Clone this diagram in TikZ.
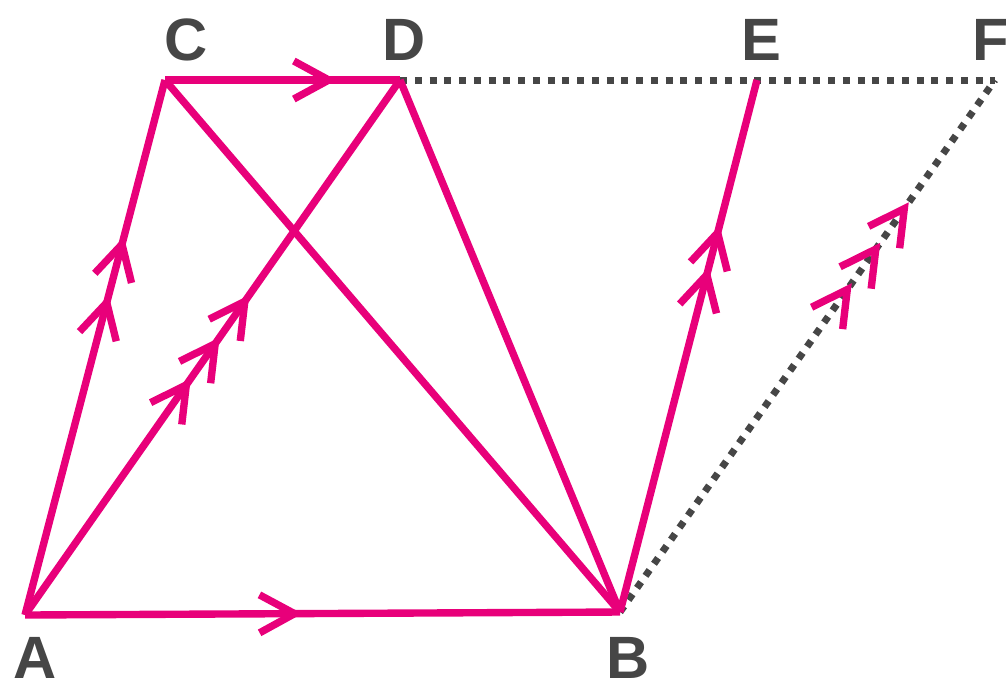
\documentclass[tikz,border=0pt]{standalone}
\usepackage{fontspec}
\setmainfont{Liberation Sans}
\usetikzlibrary{arrows.meta,decorations.markings}
\definecolor{magenta}{RGB}{232,0,122}
\definecolor{inkgray}{RGB}{70,70,70}
\tikzset{
  chevtip/.tip={Straight Barb[length=3.5mm,width=3.8mm]},
  seg/.style={draw=magenta,line width=2.1pt,line join=miter},
  guide/.style={draw=inkgray,line width=2pt,dash pattern=on 2pt off 2.2pt},
  chev at/.style={postaction={decorate,decoration={markings,
    mark=at position #1 with {\arrow[magenta,solid,line width=2.1pt]{chevtip}}}}},
  lbl/.style={font=\fontsize{17}{19}\selectfont\bfseries,text=inkgray,inner sep=0pt}
}
\begin{document}
\begin{tikzpicture}[x=0.1mm,y=-0.1mm]
\useasboundingbox (0,0) rectangle (1006,688);
% vertices
\coordinate (A) at (25,615);
\coordinate (B) at (620,612);
\coordinate (C) at (165,80);
\coordinate (D) at (400,80);
\coordinate (E) at (757,80);
\coordinate (F) at (995,80);
% labels
\node[lbl] (lA) at (35,658) {A};
\node[lbl] (lB) at (628,658) {B};
\node[lbl] (lC) at (186,40) {C};
\node[lbl] (lD) at (404,40) {D};
\node[lbl] (lE) at (761,40) {E};
\node[lbl] (lF) at (991,40) {F};
% dotted construction
\draw[guide] (D) -- (F);
\draw[guide,chev at=0.618,chev at=0.694,chev at=0.77] (B) -- (F);
% sides and diagonals
\draw[seg] (C) -- (B);
\draw[seg] (D) -- (B);
\draw[seg,chev at=0.442,chev at=0.519,chev at=0.598] (A) -- (D);
\draw[seg,chev at=0.598,chev at=0.707] (A) -- (C);
\draw[seg,chev at=0.73] (C) -- (D);
\draw[seg,chev at=0.466] (A) -- (B);
\draw[seg,chev at=0.648,chev at=0.727] (B) -- (E);
\end{tikzpicture}
\end{document}
